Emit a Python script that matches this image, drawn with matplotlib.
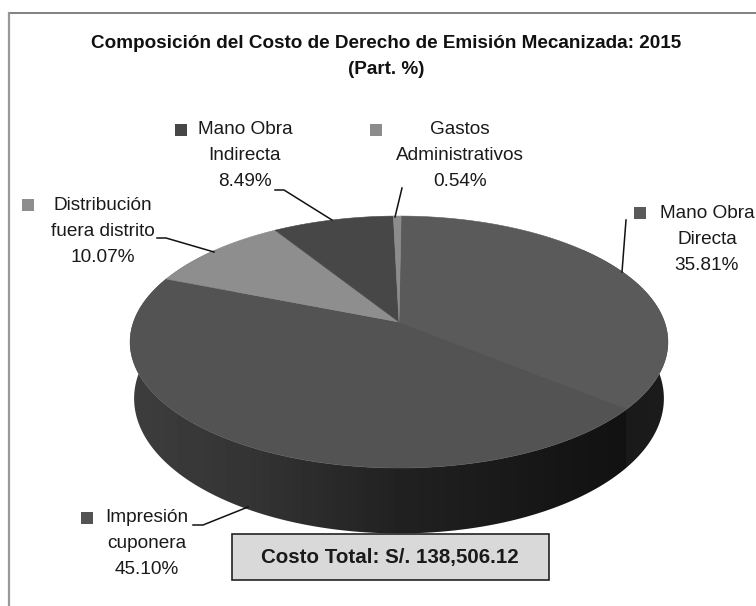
import matplotlib
matplotlib.use('Agg')
import matplotlib.pyplot as plt
import numpy as np
from matplotlib.patches import Rectangle, Polygon

plt.rcParams['font.family'] = ['Liberation Sans', 'DejaVu Sans']

# clockwise from the top, as in the original
labels = ['Mano Obra\nDirecta', 'Impresión\ncuponera', 'Distribución\nfuera distrito',
          'Mano Obra\nIndirecta', 'Gastos\nAdministrativos']
shares = [35.81, 45.10, 10.07, 8.49, 0.54]
top_colors = ['#5a5a5a', '#535353', '#8e8e8e', '#474747', '#8c8c8c']
title_lines = ['Composición del Costo de Derecho de Emisión Mecanizada: 2015', '(Part. %)']
total_text = 'Costo Total: S/. 138,506.12'

CX, CY = 399, 322
RX, RY = 265.5, 122.8
K = 0.159
DEPTH = 55
START = 0.5


def project(deg):
    a = np.radians(deg)
    u = np.sin(a)
    v = np.cos(a)
    w = 1 + K * v
    return CX + RX * u / w, CY - RY * v / w, w


def side_grey(x):
    # side wall gets darker from left to right
    return np.interp(x, [135, 260, 400, 560, 625, 626, 668],
                     [0.24, 0.20, 0.13, 0.085, 0.07, 0.10, 0.11])


fig = plt.figure(figsize=(7.56, 6.06), dpi=100)
ax = fig.add_axes([0, 0, 1, 1])
ax.set_xlim(0, 756)
ax.set_ylim(606, 0)
ax.axis('off')

# only the top and left frame lines are on the page
ax.plot([9, 756], [13, 13], color='#777777', lw=1.3)
ax.plot([9, 9], [13, 606], color='#999999', lw=1.6)

# side wall: one gradient clipped to the outline of the wall
# the ends of the outline stay hidden under the top face
angs = np.linspace(START + 45, START + 315, 500)
xs, ys, ws = project(angs)
outer_x = np.r_[xs, (CX + (xs - CX) * 0.985)[::-1]]
outer_y = np.r_[ys, (ys + DEPTH / ws)[::-1]]
grad_x = np.arange(120, 680)
img = side_grey(grad_x)[None, :]
im = ax.imshow(img, cmap='gray', vmin=0, vmax=1, extent=(120, 680, 560, 250), aspect='auto', zorder=1)
im.set_clip_path(Polygon(np.c_[outer_x, outer_y], transform=ax.transData))
ax.set_xlim(0, 756)
ax.set_ylim(606, 0)

# top face
bounds = START + np.cumsum([0] + shares) * 3.6
for i in range(len(shares)):
    a = np.linspace(bounds[i], bounds[i + 1], 200)
    x, y, _ = project(a)
    ax.fill(np.r_[CX, x], np.r_[CY, y], color=top_colors[i], lw=0.4, zorder=2)

# title
ax.text(386, 43, title_lines[0], ha='center', va='center', fontsize=13.6, fontweight='bold', color='#111111')
ax.text(386, 69, title_lines[1], ha='center', va='center', fontsize=13.6, fontweight='bold', color='#111111')

# labels: centre x, first line y, marker x
label_x = [707, 147, 103, 245, 460]
label_y = [213, 518, 205, 130, 130]
marker_x = [640, 87, 28, 181, 376]
pct = ['%.2f%%' % s for s in shares]
for i in range(len(labels)):
    lines = labels[i].split('\n') + [pct[i]]
    for j, line in enumerate(lines):
        ax.text(label_x[i], label_y[i] + j * 26, line, ha='center', va='center',
                fontsize=13.7, color='#1a1a1a')
    ax.add_patch(Rectangle((marker_x[i] - 6, label_y[i] - 6), 12, 12, fc=top_colors[i], ec='none'))

# leader lines
leaders = [([626, 622], [220, 272]),
           ([193, 203, 248], [525, 525, 507]),
           ([157, 166, 214], [238, 238, 252]),
           ([275, 284, 332], [190, 190, 220]),
           ([402, 395], [188, 217])]
for lx, ly in leaders:
    ax.plot(lx, ly, color='#111111', lw=1.1)

# total box
ax.add_patch(Rectangle((232, 534), 317, 46, fc='#d9d9d9', ec='#222222', lw=1.2))
ax.text(390, 557, total_text, ha='center', va='center', fontsize=14.8, fontweight='bold', color='#1a1a1a')

fig.savefig('out.png', dpi=100)
